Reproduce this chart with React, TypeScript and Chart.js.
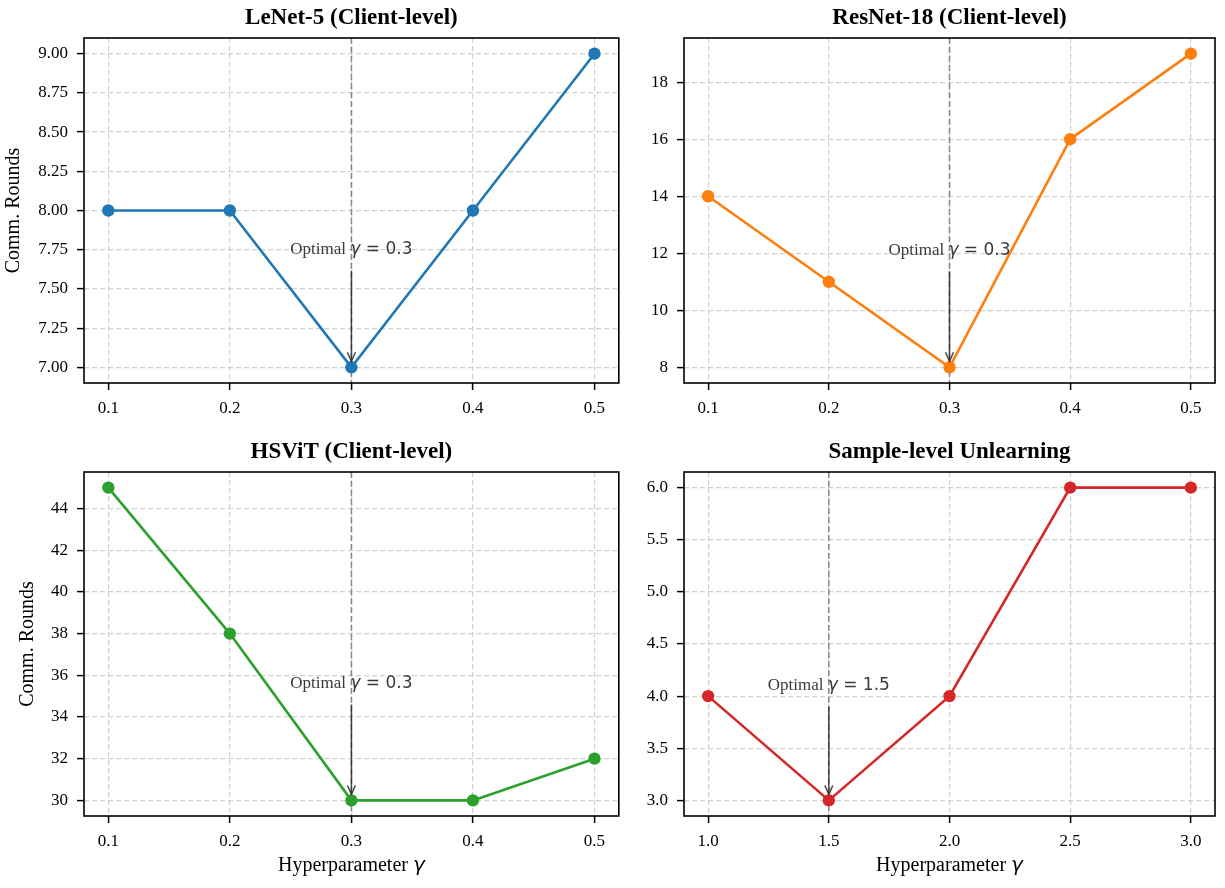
import React, { useEffect, useRef } from "react";
import { Chart, registerables } from "chart.js";
Chart.register(...registerables);

// ---- data ----
const gammaClient = [0.1, 0.2, 0.3, 0.4, 0.5];
const gammaSample = [1.0, 1.5, 2.0, 2.5, 3.0];
const lenetRounds = [8, 8, 7, 8, 9];
const resnetRounds = [14, 11, 8, 16, 19];
const hsvitRounds = [45, 38, 30, 30, 32];
const sampleRounds = [4, 3, 4, 6, 6];

const lenetYTicks = [7.0, 7.25, 7.5, 7.75, 8.0, 8.25, 8.5, 8.75, 9.0];
const resnetYTicks = [8, 10, 12, 14, 16, 18];
const hsvitYTicks = [30, 32, 34, 36, 38, 40, 42, 44];
const sampleYTicks = [3.0, 3.5, 4.0, 4.5, 5.0, 5.5, 6.0];

const titles = [
  "LeNet-5 (Client-level)",
  "ResNet-18 (Client-level)",
  "HSViT (Client-level)",
  "Sample-level Unlearning",
];
const optimalGamma = [0.3, 0.3, 0.3, 1.5];
const optimalLabel = ["0.3", "0.3", "0.3", "1.5"];
const annotTextY = [7.75, 12.1, 35.6, 4.1];

const colors = ["#1f77b4", "#ff7f0e", "#2ca02c", "#d62728"];
const SERIF = '"Liberation Serif", "Times New Roman", serif';

type Panel = {
  idx: number;
  xs: number[];
  ys: number[];
  xTicks: number[];
  yTicks: number[];
  xDec: number;
  yDec: number;
  left: number;
  top: number;
  w: number;
  h: number;
  padTop: number;
  padRight: number;
  yWidth: number;
  xHeight: number;
  yTitle: boolean;
  yTitlePad: number;
  xTitle: boolean;
};

const panels: Panel[] = [
  { idx: 0, xs: gammaClient, ys: lenetRounds, xTicks: gammaClient, yTicks: lenetYTicks, xDec: 1, yDec: 2,
    left: 0, top: 0, w: 625, h: 425, padTop: 38, padRight: 6, yWidth: 84, xHeight: 42, yTitle: true, yTitlePad: 2, xTitle: false },
  { idx: 1, xs: gammaClient, ys: resnetRounds, xTicks: gammaClient, yTicks: resnetYTicks, xDec: 1, yDec: 0,
    left: 625, top: 0, w: 600, h: 425, padTop: 38, padRight: 10, yWidth: 59, xHeight: 42, yTitle: false, yTitlePad: 0, xTitle: false },
  { idx: 2, xs: gammaClient, ys: hsvitRounds, xTicks: gammaClient, yTicks: hsvitYTicks, xDec: 1, yDec: 0,
    left: 0, top: 425, w: 625, h: 463, padTop: 47, padRight: 6, yWidth: 84, xHeight: 72, yTitle: true, yTitlePad: 16, xTitle: true },
  { idx: 3, xs: gammaSample, ys: sampleRounds, xTicks: gammaSample, yTicks: sampleYTicks, xDec: 1, yDec: 1,
    left: 625, top: 425, w: 600, h: 463, padTop: 47, padRight: 10, yWidth: 59, xHeight: 72, yTitle: false, yTitlePad: 0, xTitle: true },
];

function margins(vals: number[]) {
  const mn = Math.min(...vals);
  const mx = Math.max(...vals);
  const m = (mx - mn) * 0.05;
  return [mn - m, mx + m];
}

function drawMixed(ctx: any, parts: [string, string][], cx: number, cy: number) {
  const widths = parts.map(([t, f]) => {
    ctx.font = f;
    return ctx.measureText(t).width;
  });
  let x = cx - widths.reduce((a, b) => a + b, 0) / 2;
  ctx.textAlign = "left";
  ctx.textBaseline = "middle";
  parts.forEach(([t, f], j) => {
    ctx.font = f;
    ctx.fillText(t, x, cy);
    x += widths[j];
  });
}

function decoPlugin(p: Panel) {
  const i = p.idx;
  return {
    id: "deco" + i,
    beforeDatasetsDraw(chart: any) {
      const { ctx, chartArea, scales } = chart;
      const px = scales.x.getPixelForValue(optimalGamma[i]);
      ctx.save();
      ctx.strokeStyle = "rgba(110,110,110,0.75)";
      ctx.lineWidth = 1.6;
      ctx.setLineDash([6, 3]);
      ctx.beginPath();
      ctx.moveTo(px, chartArea.top);
      ctx.lineTo(px, chartArea.bottom);
      ctx.stroke();
      ctx.restore();
    },
    afterDatasetsDraw(chart: any) {
      const { ctx, scales } = chart;
      const k = p.xs.indexOf(optimalGamma[i]);
      const px = scales.x.getPixelForValue(optimalGamma[i]);
      const py = scales.y.getPixelForValue(p.ys[k]);
      const ty = scales.y.getPixelForValue(annotTextY[i]);
      // arrow
      const y0 = ty + 21;
      const y1 = py - 6;
      ctx.save();
      ctx.strokeStyle = "rgba(45,45,45,0.85)";
      ctx.lineWidth = 1.5;
      ctx.beginPath();
      ctx.moveTo(px, y0);
      ctx.lineTo(px, y1);
      ctx.stroke();
      ctx.beginPath();
      ctx.moveTo(px - 4, y1 - 9);
      ctx.lineTo(px, y1);
      ctx.lineTo(px + 4, y1 - 9);
      ctx.stroke();
      ctx.fillStyle = "#3a3a3a";
      drawMixed(
        ctx,
        [
          ["Optimal ", `17px ${SERIF}`],
          ["\u03b3", `italic 17px "DejaVu Sans"`],
          [" = " + optimalLabel[i], `17px "DejaVu Sans"`],
        ],
        px,
        ty
      );
      ctx.restore();
    },
    afterDraw(chart: any) {
      const { ctx, chartArea, height } = chart;
      ctx.save();
      ctx.strokeStyle = "#000";
      ctx.lineWidth = 1.6;
      ctx.setLineDash([]);
      ctx.strokeRect(chartArea.left, chartArea.top, chartArea.right - chartArea.left, chartArea.bottom - chartArea.top);
      ctx.fillStyle = "#000";
      ctx.font = `bold 23px ${SERIF}`;
      ctx.textAlign = "center";
      ctx.textBaseline = "middle";
      ctx.fillText(titles[i], (chartArea.left + chartArea.right) / 2, chartArea.top - 20);
      if (p.xTitle) {
        drawMixed(
          ctx,
          [
            ["Hyperparameter ", `20px ${SERIF}`],
            ["\u03b3", `italic 20px "DejaVu Sans"`],
          ],
          (chartArea.left + chartArea.right) / 2,
          height - 22
        );
      }
      ctx.restore();
    },
  };
}

function PanelChart({ p }: { p: Panel }) {
  const ref = useRef<HTMLCanvasElement | null>(null);
  useEffect(() => {
    if (!ref.current) return;
    const [xmin, xmax] = margins(p.xs);
    const [ymin, ymax] = margins(p.ys);
    const gridCommon = {
      color: "rgba(190,190,190,0.7)",
      lineWidth: 1.2,
      tickColor: "#000",
      tickWidth: 1.5,
      tickLength: 7,
    };
    const chart = new Chart(ref.current, {
      type: "line",
      data: {
        datasets: [
          {
            data: p.xs.map((x, j) => ({ x, y: p.ys[j] })),
            borderColor: colors[p.idx],
            backgroundColor: colors[p.idx],
            borderWidth: 2.6,
            pointRadius: 6.2,
            pointBackgroundColor: colors[p.idx],
            pointBorderWidth: 0,
            tension: 0,
          },
        ],
      },
      options: {
        animation: false,
        responsive: false,
        maintainAspectRatio: false,
        layout: { padding: { top: p.padTop, right: p.padRight, left: 0, bottom: 0 } },
        plugins: { legend: { display: false }, tooltip: { enabled: false }, title: { display: false } },
        scales: {
          x: {
            type: "linear",
            min: xmin,
            max: xmax,
            afterBuildTicks: (s: any) => {
              s.ticks = p.xTicks.map((v) => ({ value: v }));
            },
            afterFit: (s: any) => {
              s.height = p.xHeight;
            },
            grid: gridCommon,
            border: { display: false, dash: [5, 3] },
            ticks: {
              autoSkip: false,
              maxRotation: 0,
              padding: 8,
              color: "#000",
              font: { family: SERIF, size: 17 },
              callback: (v: any) => Number(v).toFixed(p.xDec),
            },
            title: { display: false },
          },
          y: {
            type: "linear",
            min: ymin,
            max: ymax,
            afterBuildTicks: (s: any) => {
              s.ticks = p.yTicks.map((v) => ({ value: v }));
            },
            afterFit: (s: any) => {
              s.width = p.yWidth;
            },
            grid: gridCommon,
            border: { display: false, dash: [5, 3] },
            ticks: {
              autoSkip: false,
              padding: 9,
              color: "#000",
              font: { family: SERIF, size: 17 },
              callback: (v: any) => Number(v).toFixed(p.yDec),
            },
            title: {
              display: p.yTitle,
              text: "Comm. Rounds",
              color: "#000",
              font: { family: SERIF, size: 20 },
              padding: { top: p.yTitlePad, bottom: 0 },
            },
          },
        },
      },
      plugins: [decoPlugin(p) as any],
    });
    return () => chart.destroy();
  }, [p]);
  return (
    <canvas
      ref={ref}
      width={p.w}
      height={p.h}
      style={{ position: "absolute", left: p.left, top: p.top, width: p.w, height: p.h, display: "block" }}
    />
  );
}

export default function App() {
  return (
    <div style={{ position: "absolute", left: 0, top: 0, width: 1225, height: 888, background: "#fff", overflow: "hidden" }}>
      {panels.map((p) => (
        <PanelChart key={p.idx} p={p} />
      ))}
    </div>
  );
}
